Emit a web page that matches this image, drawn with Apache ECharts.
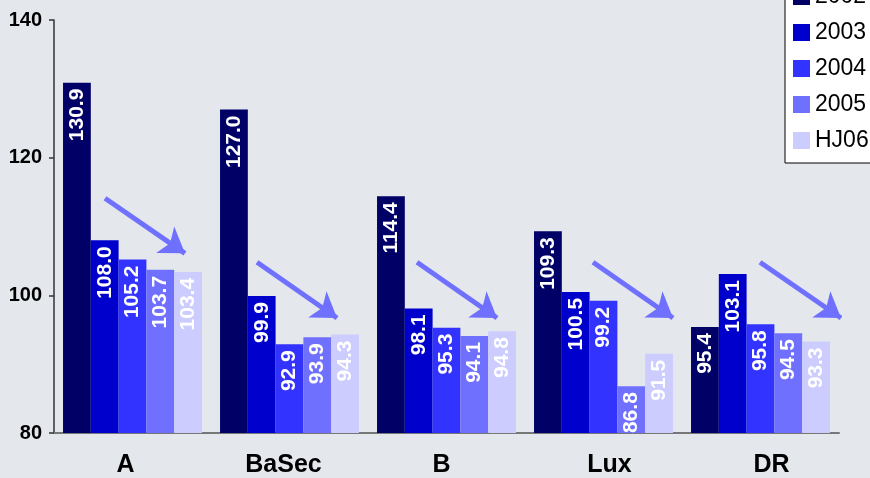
<!DOCTYPE html>
<html>
<head>
<meta charset="utf-8">
<script src="https://cdn.jsdelivr.net/npm/echarts@6/dist/echarts.min.js"></script>
<style>
  html, body { margin: 0; padding: 0; background: #e4e8ec; }
  #chart { width: 870px; height: 478px; }
</style>
</head>
<body>
<div id="chart"></div>
<script>
// Categories and yearly index values
const categories = ['A', 'BaSec', 'B', 'Lux', 'DR'];
const seriesNames = ['2002', '2003', '2004', '2005', 'HJ06'];
const values2002 = [130.9, 127.0, 114.4, 109.3, 95.4];
const values2003 = [108.0, 99.9, 98.1, 100.5, 103.1];
const values2004 = [105.2, 92.9, 95.3, 99.2, 95.8];
const values2005 = [103.7, 93.9, 94.1, 86.8, 94.5];
const valuesHJ06 = [103.4, 94.3, 94.8, 91.5, 93.3];
const yTicks = [80, 100, 120, 140];

// Trend arrows per group, in (category position, value) units: tail and tip
const arrowStarts = [[-0.175, 114.1], [0.793, 104.8], [1.812, 104.8], [2.933, 104.8], [3.997, 104.8]];
const arrowEnds   = [[0.334, 106.1], [1.303, 96.7], [2.322, 96.7], [3.443, 96.7], [4.513, 96.7]];

const colors = ['#000066', '#0000cc', '#3333ff', '#7070ff', '#ccccff'];
const allValues = [values2002, values2003, values2004, values2005, valuesHJ06];
const FONT = '"Liberation Sans", Arial, sans-serif';

// Horizontal nudge (px) of each category label; negative moves left
const labelShift = [-7, -6, -5, 6, 11];
const labelRich = {};
labelShift.forEach((d, i) => {
  labelRich['c' + i] = {
    fontFamily: FONT, fontWeight: 'bold', fontSize: 25, color: '#000000',
    padding: d < 0 ? [0, -2 * d, 0, 0] : [0, 0, 0, 2 * d]
  };
});

const barSeries = seriesNames.map((name, i) => ({
  name: name,
  type: 'bar',
  data: allValues[i],
  barGap: 0,
  barCategoryGap: '11.5%',
  itemStyle: { color: colors[i] },
  label: {
    show: true,
    position: 'insideTop',
    rotate: 90,
    align: 'right',
    verticalAlign: 'middle',
    distance: 6,
    color: '#ffffff',
    fontFamily: FONT,
    fontWeight: 'bold',
    fontSize: 21,
    formatter: p => p.value.toFixed(1)
  }
}));

const arrowSeries = {
  type: 'lines',
  coordinateSystem: 'cartesian2d',
  xAxisIndex: 1,
  yAxisIndex: 0,
  symbol: ['none', 'arrow'],
  symbolSize: [24, 24],
  lineStyle: { color: '#7070ff', width: 5, opacity: 1, curveness: 0 },
  silent: true,
  z: 5,
  data: arrowStarts.map((s, i) => ({ coords: [s, arrowEnds[i]] }))
};

const chart = echarts.init(document.getElementById('chart'), null, { renderer: 'canvas' });
chart.setOption({
  backgroundColor: '#e4e8ec',
  animation: false,
  grid: { left: 54, right: 31, top: 20, bottom: 43, containLabel: false },
  legend: {
    orient: 'vertical',
    left: 785,
    top: -25,
    padding: [10, 12, 11, 8],
    itemGap: 13,
    itemWidth: 17,
    itemHeight: 17,
    backgroundColor: '#ffffff',
    borderColor: '#000000',
    borderWidth: 1,
    borderRadius: 0,
    icon: 'rect',
    data: seriesNames,
    textStyle: { fontFamily: FONT, fontSize: 23, color: '#000000', lineHeight: 22, padding: [0, 0, 0, 0] }
  },
  xAxis: [
    {
      type: 'category',
      data: categories,
      axisLine: { onZero: false, lineStyle: { color: '#777777', width: 2 } },
      axisTick: { show: false },
      axisLabel: {
        interval: 0,
        hideOverlap: false,
        margin: 20,
        fontFamily: FONT, fontWeight: 'bold', fontSize: 25, color: '#000000',
        formatter: (v, i) => '{c' + i + '|' + v + '}',
        rich: labelRich
      }
    },
    {
      type: 'value',
      min: -0.5,
      max: 4.5,
      show: false
    }
  ],
  yAxis: {
    type: 'value',
    min: yTicks[0],
    max: yTicks[yTicks.length - 1],
    interval: yTicks[1] - yTicks[0],
    splitLine: { show: false },
    axisLine: { show: true, onZero: false, lineStyle: { color: '#333333', width: 1.5 } },
    axisTick: { show: true, length: 5, lineStyle: { color: '#333333', width: 1.5 } },
    axisLabel: { margin: 12, fontFamily: FONT, fontWeight: 'bold', fontSize: 20, color: '#000000' }
  },
  series: barSeries.concat([arrowSeries])
});
</script>
</body>
</html>
